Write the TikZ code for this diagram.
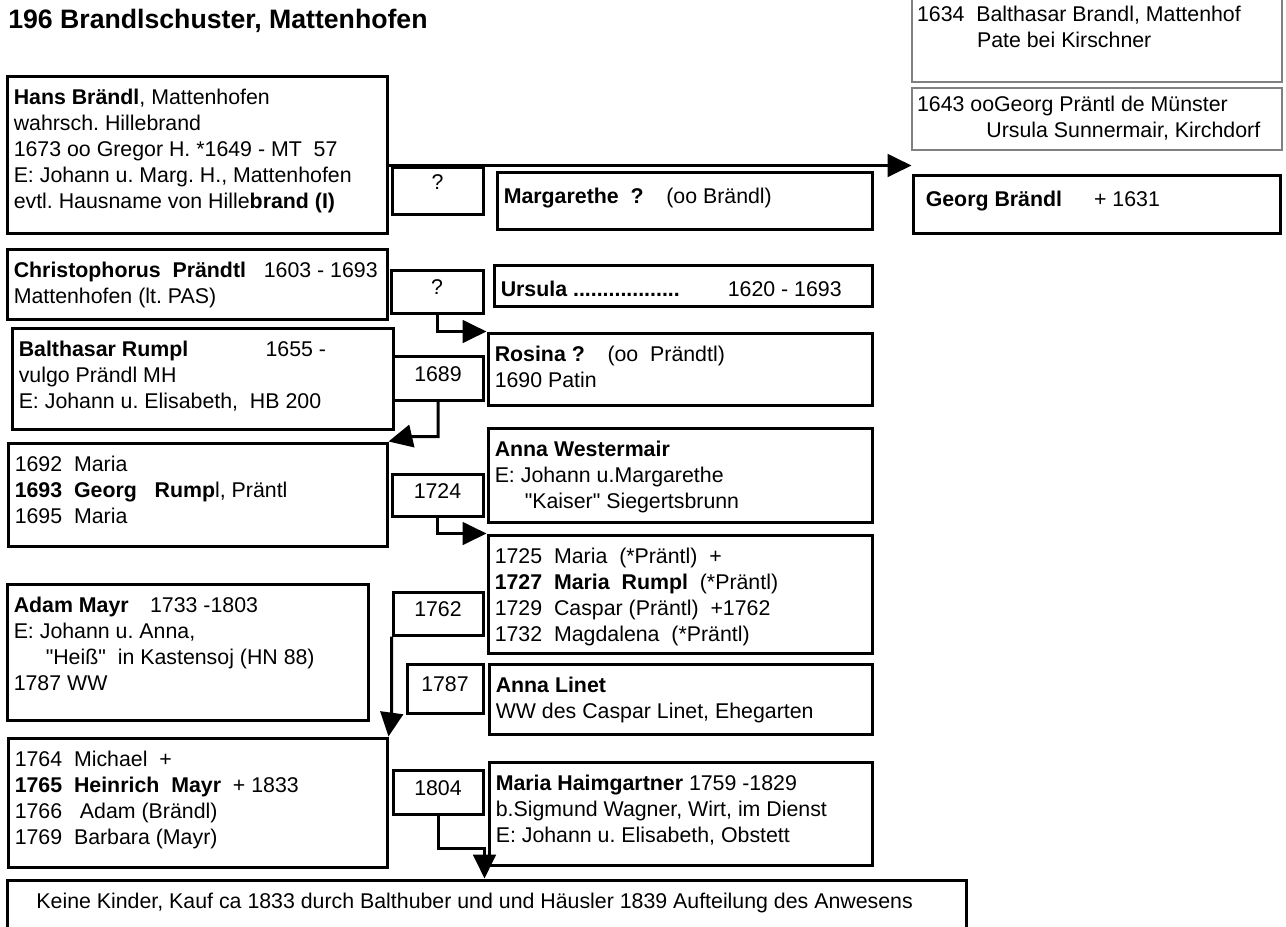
\documentclass[tikz,border=0pt]{standalone}
\usepackage{fontspec}
\setmainfont{Liberation Sans}[Ligatures=TeXOff]
\frenchspacing
\usetikzlibrary{arrows.meta, positioning, calc, fit}

\begin{document}
\begin{tikzpicture}[x=0.75pt, y=-0.75pt,
    box/.style={draw, line width=2.25pt, inner sep=0pt},
    thinbox/.style={draw=gray, line width=0.8pt, inner sep=0pt},
    txt/.style={anchor=north west, align=left, inner xsep=6pt, inner ysep=11pt,
      font=\fontsize{16}{19.5}\selectfont, execute at begin node=\strut},
    yr/.style={font=\fontsize{16}{19.5}\selectfont, yshift=3pt},
    conn/.style={line width=2.25pt, -{Triangle[length=18pt, width=17pt]}}]
  \useasboundingbox (0,0) rectangle (1286,926);

  \node[anchor=base west, inner sep=0pt, font=\fontsize{20}{24}\selectfont\bfseries]
    (title) at (8,28) {196 Brandlschuster, Mattenhofen};

  % notes top right
  \node[thinbox, fit={(912,-7) (1282,82)}] (bap) {};
  \node[txt, inner xsep=4pt, yshift=1pt] (bap-t) at (bap.north west)
    {1634\ \ Balthasar Brandl, Mattenhof\\ \hspace*{45pt}Pate bei Kirschner};
  \node[thinbox, fit={(912,88) (1282,150)}] (mar) {};
  \node[txt, inner xsep=4pt, yshift=4.5pt] (mar-t) at (mar.north west)
    {1643 ooGeorg Pr\"antl de M\"unster\\ \hspace*{52pt}Ursula Sunnermair, Kirchdorf};

  % persons
  \node[box, fit={(913,175) (1280,233)}] (georg) {};
  \node[txt, inner xsep=10.5pt] (georg-t) at (georg.north west)
    {\textbf{Georg Br\"andl}\hspace{24pt}+ 1631};

  \node[box, fit={(7,76) (387,233)}] (hans) {};
  \node[txt] (hans-t) at (hans.north west)
    {\textbf{Hans Br\"andl}, Mattenhofen\\ wahrsch. Hillebrand\\
     1673 oo Gregor H. *1649 - MT\ \ 57\\ E: Johann u. Marg. H., Mattenhofen\\
     evtl. Hausname von Hille\textbf{brand (I)}};

  \node[box, fit={(497,172) (872,229)}] (marg) {};
  \node[txt] (marg-t) at (marg.north west)
    {\textbf{Margarethe\ \ ?}\hspace{17pt}(oo Br\"andl)};

  \node[box, fit={(7,249) (387,319)}] (chris) {};
  \node[txt] (chris-t) at (chris.north west)
    {\textbf{Christophorus\ \ Pr\"andtl}\ \ \ 1603 - 1693\\ Mattenhofen (lt. PAS)};

  \node[box, fit={(494,265) (872,306)}] (urs) {};
  \node[txt] (urs-t) at (urs.north west)
    {\textbf{Ursula ..................}\hspace{36pt}1620 - 1693};

  \node[box, fit={(488,333) (872,405)}] (ros) {};
  \node[txt] (ros-t) at (ros.north west)
    {\textbf{Rosina ?}\hspace{17pt}(oo\ \ Pr\"andtl)\\ 1690 Patin};

  \node[box, fit={(12,328) (393,429)}] (balt) {};
  \node[txt] (balt-t) at (balt.north west)
    {\textbf{Balthasar Rumpl}\hspace{58pt}1655 -\\ vulgo Pr\"andl MH\\
     E: Johann u. Elisabeth,\ \ HB 200};

  \node[box, fit={(8,443) (387,546)}] (m1692) {};
  \node[txt] (m1692-t) at (m1692.north west)
    {1692\ \ Maria\\ \textbf{1693\ \ Georg\ \ \ Rump}l, Pr\"antl\\ 1695\ \ Maria};

  \node[box, fit={(488,428) (872,522)}] (west) {};
  \node[txt] (west-t) at (west.north west)
    {\textbf{Anna Westermair}\\ E: Johann u.Margarethe\\
     \hspace*{22.5pt}"Kaiser" Siegertsbrunn};

  \node[box, fit={(488,535) (872,653)}] (m1725) {};
  \node[txt] (m1725-t) at (m1725.north west)
    {1725\ \ Maria\ \ (*Pr\"antl)\ \ +\\ \textbf{1727\ \ Maria\ \ Rumpl}\ \ (*Pr\"antl)\\
     1729\ \ Caspar (Pr\"antl)\ \ +1762\\ 1732\ \ Magdalena\ \ (*Pr\"antl)};

  \node[box, fit={(7,584) (368,720)}] (adam) {};
  \node[txt] (adam-t) at (adam.north west)
    {\textbf{Adam Mayr}\hspace{16pt}1733 -1803\\ E: Johann u. Anna,\\
     \hspace*{24pt}"Hei\ss"\ \ in Kastensoj (HN 88)\\ 1787 WW};

  \node[box, fit={(489,664) (872,734)}] (linet) {};
  \node[txt] (linet-t) at (linet.north west)
    {\textbf{Anna Linet}\\ WW des Caspar Linet, Ehegarten};

  \node[box, fit={(8,738) (387,867)}] (m1764) {};
  \node[txt] (m1764-t) at (m1764.north west)
    {1764\ \ Michael\ \ +\\ \textbf{1765\ \ Heinrich\ \ Mayr}\ \ + 1833\\
     1766\ \ \ Adam (Br\"andl)\\ 1769\ \ Barbara (Mayr)};

  \node[box, fit={(489,762) (872,865)}] (haim) {};
  \node[txt] (haim-t) at (haim.north west)
    {\textbf{Maria Haimgartner} 1759 -1829\\ b.Sigmund Wagner, Wirt, im Dienst\\
     E: Johann u. Elisabeth, Obstett};

  \node[box, fit={(7,880) (966,940)}] (final) {};
  \node[txt, inner xsep=23pt, inner ysep=9pt] (final-t) at (final.north west)
    {Keine Kinder, Kauf ca 1833 durch Balthuber und und H\"ausler 1839 Aufteilung des Anwesens};

  % marriage years
  \node[box, fit={(392,167) (483,214)}] (q1) {};
  \node[yr, yshift=3pt] (q1-t) at (q1) {?};
  \node[box, fit={(391,270) (483,313)}] (q2) {};
  \node[yr] (q2-t) at (q2) {?};
  \node[box, fit={(393,356) (483,400)}] (y1689) {};
  \node[yr] (y1689-t) at (y1689) {1689};
  \node[box, fit={(392,474) (483,516)}] (y1724) {};
  \node[yr] (y1724-t) at (y1724) {1724};
  \node[box, fit={(393,592) (483,635)}] (y1762) {};
  \node[yr] (y1762-t) at (y1762) {1762};
  \node[box, fit={(407,664) (483,713)}] (y1787) {};
  \node[yr] (y1787-t) at (y1787) {1787};
  \node[box, fit={(393,770) (483,814)}] (y1804) {};
  \node[yr] (y1804-t) at (y1804) {1804};

  % connectors
  \draw[conn] (hans.east |- q1.north) -- (georg.west |- q1.north);
  \draw[conn] (q2.south) |- (ros.north west);
  \draw[conn] (y1689.south) -- ++(0,35) -- ++(-28,0) -- (m1692.north east);
  \draw[conn] (y1724.south) |- (m1725.north west);
  \draw[conn] (y1762.south west) -- ++(0,78) -- (m1764.north east);
  \draw[conn] (y1804.south) -- ++(0,33) -| (final.north -| y1804.east);
\end{tikzpicture}
\end{document}
